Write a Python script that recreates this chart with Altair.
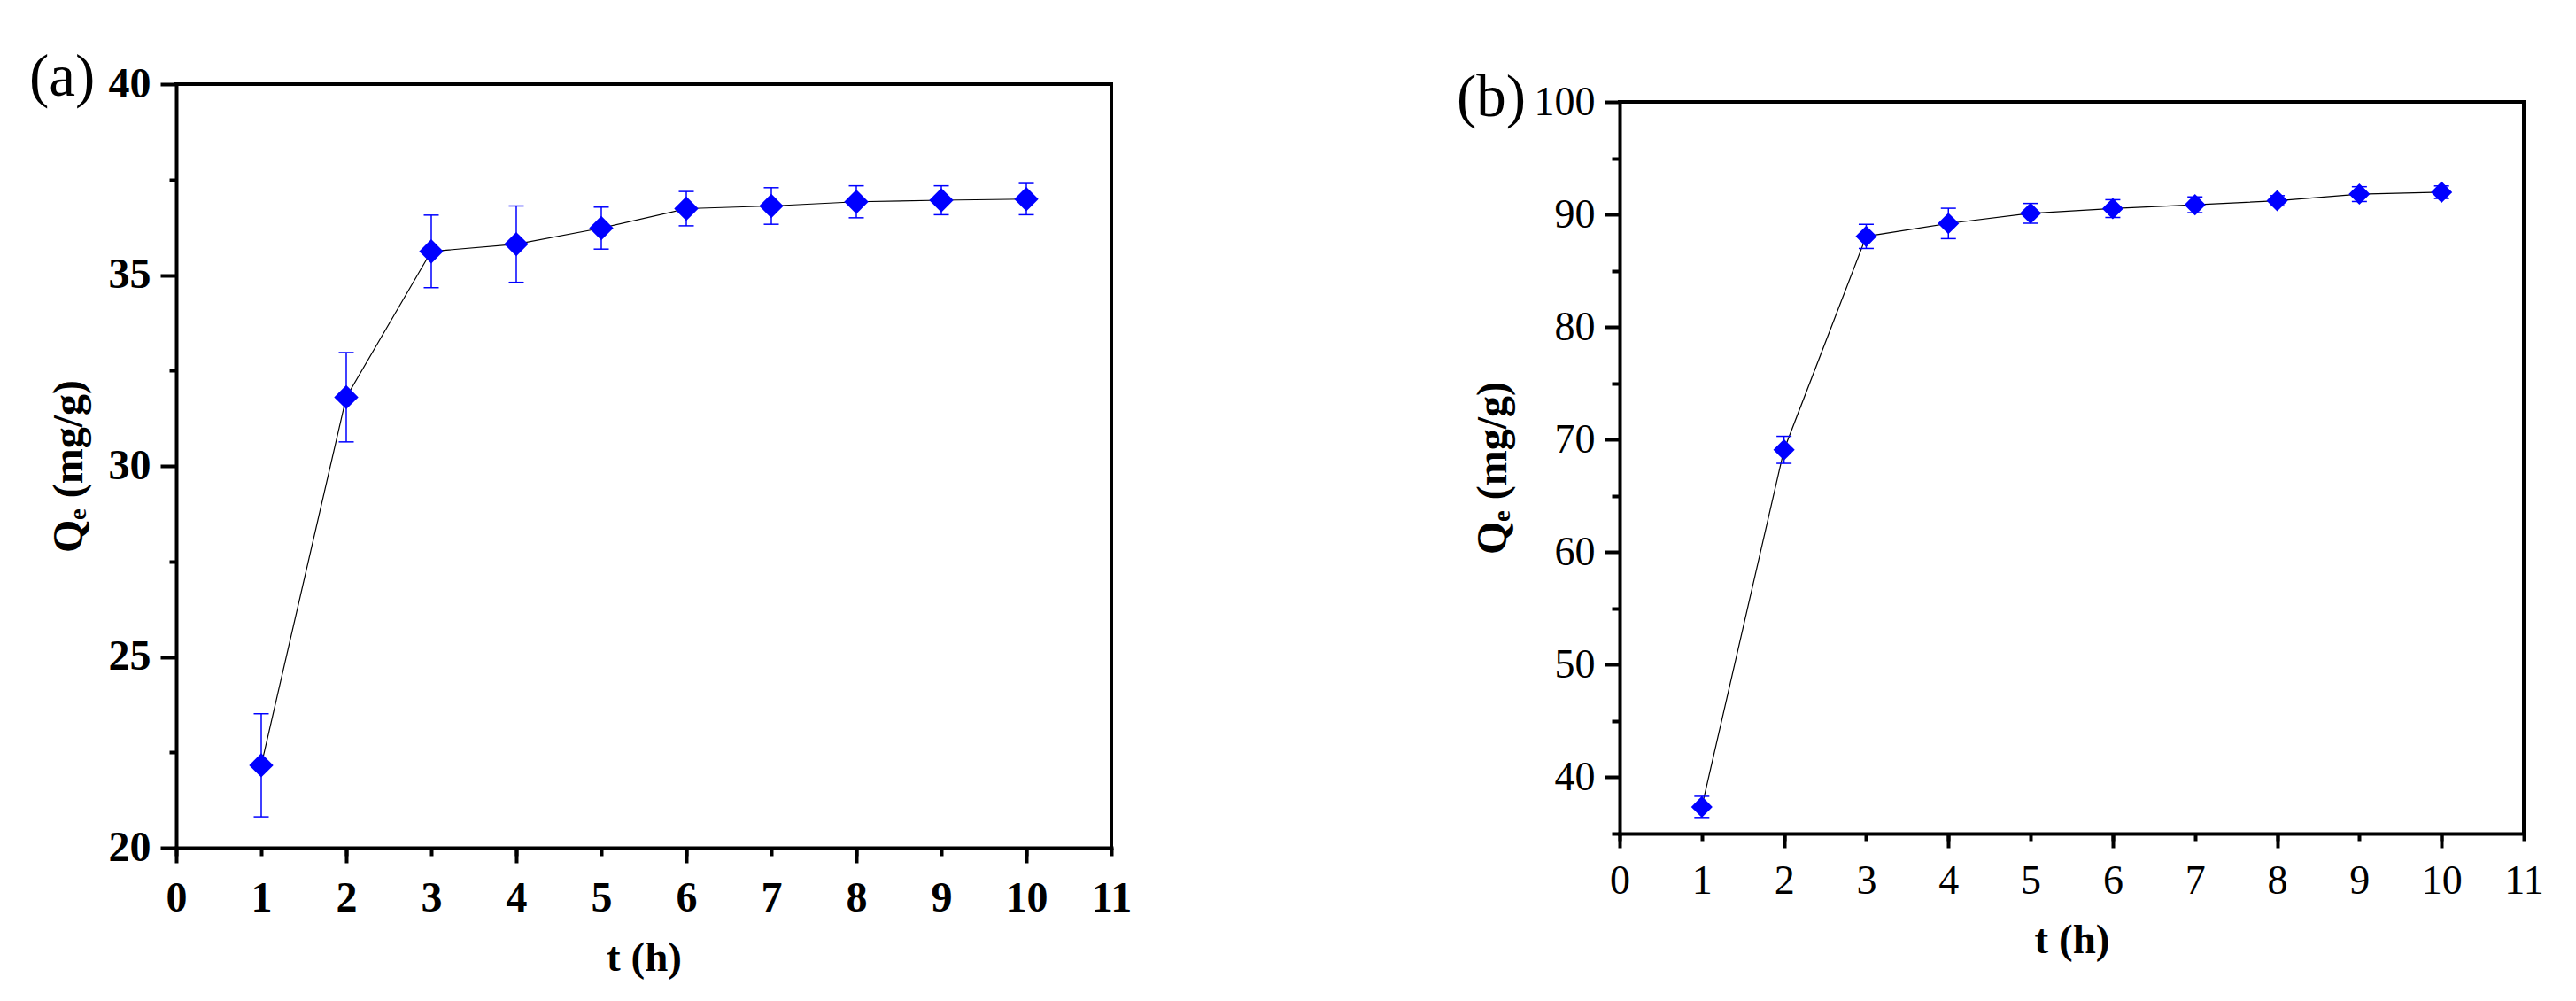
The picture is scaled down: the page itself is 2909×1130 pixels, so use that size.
import altair as alt
import pandas as pd

# ---- data ----
T = [1, 2, 3, 4, 5, 6, 7, 8, 9, 10]
QE_A = [22.16, 31.80, 35.62, 35.81, 36.23, 36.74, 36.81, 36.92, 36.96, 36.99]
ERR_A = [1.35, 1.17, 0.95, 1.00, 0.55, 0.45, 0.48, 0.42, 0.38, 0.41]
QE_B = [37.37, 69.09, 88.05, 89.20, 90.10, 90.52, 90.86, 91.22, 91.81, 91.98]
ERR_B = [0.94, 1.20, 1.07, 1.35, 0.88, 0.79, 0.70, 0.45, 0.66, 0.56]

X_DOMAIN = [0, 11]
X_LABEL_TICKS = [0, 1, 2, 3, 4, 5, 6, 7, 8, 9, 10, 11]
X_MAJOR_TICKS = [0, 2, 4, 6, 8, 10]

Y_DOMAIN_A = [20, 40]
Y_MAJOR_A = [20, 25, 30, 35, 40]
Y_MINOR_A = [22.5, 27.5, 32.5, 37.5]

Y_DOMAIN_B = [35, 100]
Y_MAJOR_B = [40, 50, 60, 70, 80, 90, 100]
Y_MINOR_B = [35, 45, 55, 65, 75, 85, 95]

X_TITLE = "t (h)"
Y_TITLE = "Q\u2091 (mg/g)"
PANEL_LABELS = ["(a)", "(b)"]

FONT = "Liberation Serif"
BLUE = "#0000FF"


def panel(q, err, ydom, ymaj, ymin, label, st):
    df = pd.DataFrame({"t": T, "q": q, "lo": [a - b for a, b in zip(q, err)],
                       "hi": [a + b for a, b in zip(q, err)]})
    frame = pd.DataFrame({"x0": [X_DOMAIN[0]], "x1": [X_DOMAIN[1]],
                          "y0": [ydom[0]], "y1": [ydom[1]]})
    lab = pd.DataFrame({"label": [label]})

    xs = alt.Scale(domain=X_DOMAIN, nice=False, zero=False)
    if st["yrange"] is not None:
        ys = alt.Scale(domain=ydom, nice=False, zero=False, range=st["yrange"])
    else:
        ys = alt.Scale(domain=ydom, nice=False, zero=False)

    x_lab_axis = alt.Axis(values=X_LABEL_TICKS, orient="bottom", tickSize=st["xminor"],
                          tickWidth=4, tickColor="black", domain=True, domainWidth=4,
                          domainColor="black", domainCap="square", labelFont=FONT,
                          labelFontSize=st["lfs"], labelFontWeight=st["lfw"],
                          labelColor="black", labelPadding=st["xlp"], labelFlush=False,
                          labelOverlap=False, format="d", grid=False, title=X_TITLE,
                          titleFont=FONT, titleFontSize=47, titleFontWeight="bold",
                          titleColor="black", titlePadding=st["xtp"])
    x_tick_axis = alt.Axis(values=X_MAJOR_TICKS, orient="bottom", tickSize=st["xmajor"],
                           tickWidth=4, tickColor="black", domain=False, labels=False,
                           grid=False, title=None)
    y_lab_axis = alt.Axis(values=ymaj, orient="left", tickSize=st["ymajor"], tickWidth=4,
                          tickColor="black", domain=True, domainWidth=4, domainColor="black",
                          domainCap="square", labelFont=FONT, labelFontSize=st["lfs"],
                          labelFontWeight=st["lfw"], labelColor="black", labelPadding=11,
                          labelFlush=False, labelOverlap=False, format="d", grid=False,
                          title=Y_TITLE, titleFont=FONT, titleFontSize=48,
                          titleFontWeight="bold", titleColor="black", titlePadding=st["ytp"])
    y_tick_axis = alt.Axis(values=ymin, orient="left", tickSize=st["yminor"], tickWidth=4,
                           tickColor="black", domain=False, labels=False, grid=False,
                           title=None)

    base = alt.Chart(df)
    line = base.mark_line(color="black", strokeWidth=1.2).encode(
        x=alt.X("t:Q", scale=xs, axis=x_tick_axis),
        y=alt.Y("q:Q", scale=ys, axis=y_tick_axis),
    )
    bars = base.mark_rule(color=BLUE, strokeWidth=1.5).encode(
        x=alt.X("t:Q", scale=xs, axis=None),
        y=alt.Y("lo:Q", scale=ys, axis=None),
        y2="hi:Q",
    )
    caps = base.transform_fold(["lo", "hi"], as_=["k", "v"]).mark_tick(
        orient="horizontal", size=17, thickness=1.5, color=BLUE, opacity=1
    ).encode(
        x=alt.X("t:Q", scale=xs, axis=None),
        y=alt.Y("v:Q", scale=ys, axis=None),
    )
    pts = base.mark_point(shape="diamond", filled=True, size=st["msize"], color=BLUE,
                          opacity=1).encode(
        x=alt.X("t:Q", scale=xs, axis=x_lab_axis),
        y=alt.Y("q:Q", scale=ys, axis=y_lab_axis),
    )
    fbase = alt.Chart(frame)
    top = fbase.mark_rule(color="black", strokeWidth=4, strokeCap="square").encode(
        x=alt.X("x0:Q", scale=xs, axis=None), x2="x1:Q",
        y=alt.Y("y1:Q", scale=ys, axis=None),
    )
    right = fbase.mark_rule(color="black", strokeWidth=4, strokeCap="square").encode(
        x=alt.X("x1:Q", scale=xs, axis=None),
        y=alt.Y("y0:Q", scale=ys, axis=None), y2="y1:Q",
    )
    txt = alt.Chart(lab).mark_text(font=FONT, fontSize=67, align="left",
                                   baseline="alphabetic", color="black").encode(
        text="label:N", x=alt.value(st["lx"]), y=alt.value(st["ly"]),
    )
    return alt.layer(line, bars, caps, pts, top, right, txt).resolve_axis(
        x="independent", y="independent"
    ).properties(width=st["w"], height=st["h"])


style_a = dict(w=1056, h=862, yrange=None, lfs=48, lfw="bold", xminor=9, xmajor=17,
               ymajor=18, yminor=8, xlp=24, xtp=20, ytp=20, msize=750, lx=-166, ly=13)
style_b = dict(w=1021, h=846, yrange=[846, 20], lfs=46, lfw="normal", xminor=8, xmajor=16,
               ymajor=17, yminor=9, xlp=23, xtp=21, ytp=22, msize=580, lx=-184, ly=36)

pa = panel(QE_A, ERR_A, Y_DOMAIN_A, Y_MAJOR_A, Y_MINOR_A, PANEL_LABELS[0], style_a)
pb = panel(QE_B, ERR_B, Y_DOMAIN_B, Y_MAJOR_B, Y_MINOR_B, PANEL_LABELS[1], style_b)

chart = alt.hconcat(pa, pb, spacing=367).properties(
    padding={"left": 25, "top": 46, "right": 5, "bottom": 5},
    background="white",
).configure_view(stroke=None)

chart.save("out.html", embed_options={"renderer": "svg", "actions": False})
